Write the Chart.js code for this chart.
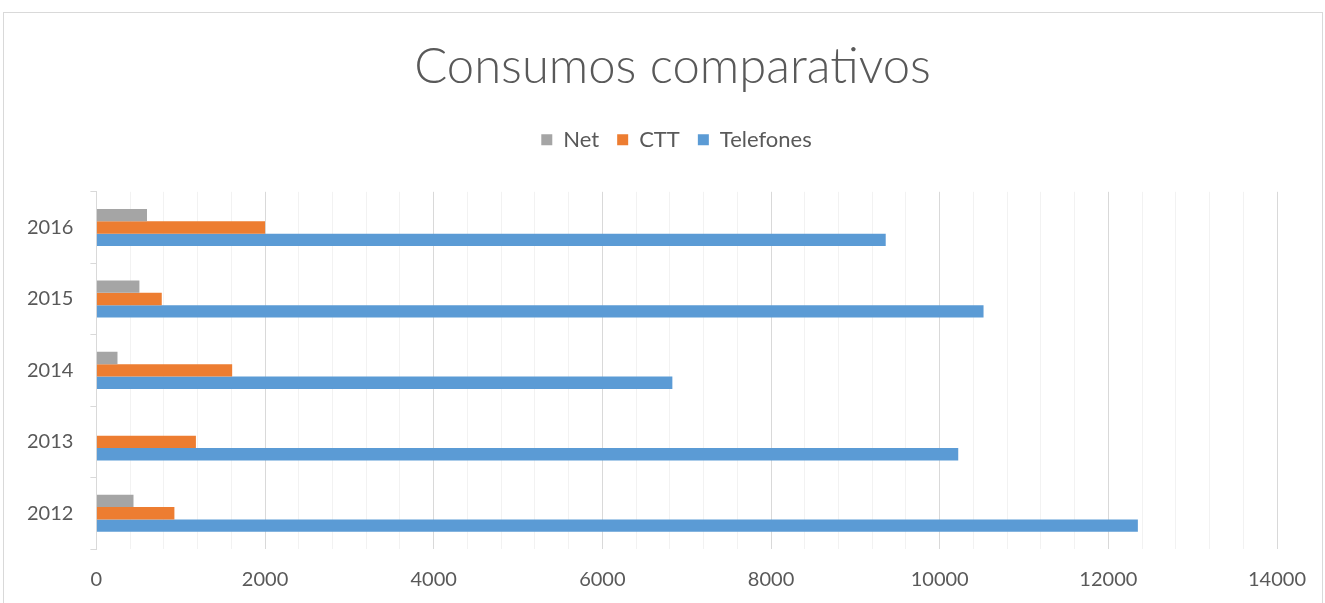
<!DOCTYPE html>
<html>
<head>
<meta charset="utf-8">
<script src="https://cdn.jsdelivr.net/npm/chart.js@4/dist/chart.umd.min.js"></script>
<style>
    html, body { margin: 0; padding: 0; background: #fff; }
    body { width: 1325px; height: 603px; position: relative; overflow: hidden; }
    #moldura { position: absolute; left: 3px; top: 12px; width: 1318px; height: 600px; border: 1px solid #d9d9d9; }
    #grafico { position: absolute; left: 0; top: 0; }
</style>
</head>
<body>
<div id="moldura"></div>
<canvas id="grafico" width="1325" height="615"></canvas>
<script>
// dados (de cima para baixo)
const anos = ["2016", "2015", "2014", "2013", "2012"];
const net = [600, 510, 250, 0, 440];
const ctt = [2000, 775, 1610, 1180, 925];
const telefones = [9360, 10520, 6830, 10220, 12350];

const corTexto = "#595959";
const fonte = "Lato, 'Open Sans', sans-serif";

// espaço extra por baixo da legenda e centragem do título/legenda como no Excel
const ajustes = {
    id: "ajustes",
    beforeInit(chart) {
        const fitOriginal = chart.legend.fit;
        chart.legend.fit = function () {
            fitOriginal.bind(chart.legend)();
            this.height += 31;
        };
    },
    afterLayout(chart) {
        chart.titleBlock.left += 28;
        chart.titleBlock.right += 28;
        chart.legend.left += 32;
        chart.legend.right += 32;
    }
};

document.addEventListener("DOMContentLoaded", function () {
    const ctx = document.getElementById("grafico").getContext("2d");

    new Chart(ctx, {
        type: "bar",
        data: {
            labels: anos,
            datasets: [
                { label: "Net", data: net, backgroundColor: "#a5a5a5" },
                { label: "CTT", data: ctt, backgroundColor: "#ed7d31" },
                { label: "Telefones", data: telefones, backgroundColor: "#5b9bd5" }
            ]
        },
        options: {
            indexAxis: "y",
            responsive: false,
            animation: false,
            datasets: {
                bar: { categoryPercentage: 0.52, barPercentage: 1.0 }
            },
            layout: { padding: { top: 12, left: 10, right: 46, bottom: 4 } },
            plugins: {
                title: {
                    display: true,
                    text: "Consumos comparativos",
                    color: corTexto,
                    font: { family: fonte, size: 49, weight: "300" },
                    padding: { top: 26, bottom: 14 }
                },
                legend: {
                    position: "top",
                    labels: {
                        color: corTexto,
                        font: { family: fonte, size: 22 },
                        boxWidth: 11,
                        boxHeight: 11,
                        padding: 18
                    }
                },
                tooltip: { enabled: false }
            },
            scales: {
                x: {
                    min: 0,
                    max: 14000,
                    border: { display: false },
                    grid: {
                        drawTicks: false,
                        color: (c) => (c.tick && c.tick.value % 2000 === 0) ? "#d9d9d9" : "#f2f2f2"
                    },
                    ticks: {
                        stepSize: 400,
                        maxTicksLimit: 40,
                        autoSkip: false,
                        maxRotation: 0,
                        minRotation: 0,
                        padding: 19,
                        color: corTexto,
                        font: { family: fonte, size: 20 },
                        callback: (v) => v % 2000 === 0 ? v : ""
                    }
                },
                y: {
                    border: { display: true, color: "#d9d9d9" },
                    grid: { drawOnChartArea: false, drawTicks: true, tickLength: 6, color: "#d9d9d9" },
                    ticks: {
                        padding: 17,
                        color: corTexto,
                        font: { family: fonte, size: 20 }
                    }
                }
            }
        },
        plugins: [ajustes]
    });
});
</script>
</body>
</html>
